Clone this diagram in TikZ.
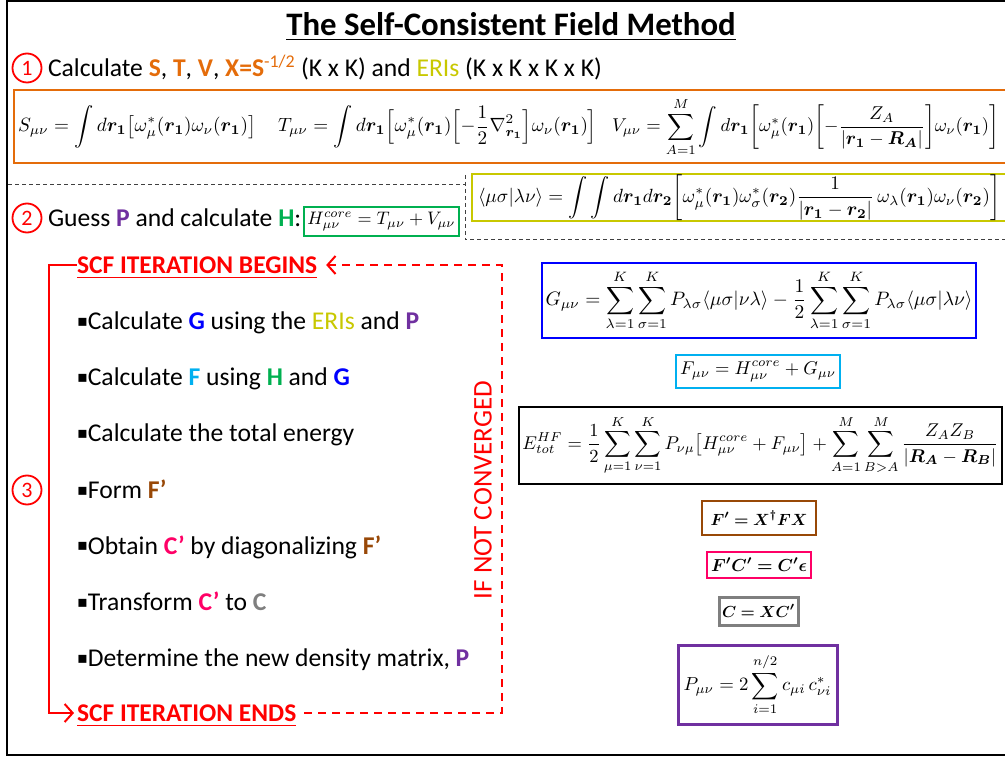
\documentclass[tikz,border=0pt]{standalone}
\usepackage{amsmath,bm}
\usepackage{graphicx}
\usepackage{fontspec}
\setmainfont{Carlito}
\newfontfamily\dejavu{DejaVu Sans}
\usetikzlibrary{arrows.meta}
\definecolor{cOrange}{HTML}{E46C0A}
\definecolor{cYellow}{HTML}{C8C800}
\definecolor{cGreen}{HTML}{00B050}
\definecolor{cBlue}{HTML}{0000FF}
\definecolor{cCyan}{HTML}{00B0F0}
\definecolor{cBrown}{HTML}{984807}
\definecolor{cPink}{HTML}{FF0066}
\definecolor{cGray}{HTML}{7F7F7F}
\definecolor{cPurple}{HTML}{7030A0}
\definecolor{cRed}{HTML}{FF0000}
\newcommand{\fs}[1]{\fontsize{#1}{#1}\selectfont}
\newcommand{\eqw}[2]{\resizebox{#1pt}{!}{$\displaystyle #2$}}
\newcommand{\bul}{\raisebox{3pt}{\dejavu\fs{16}▪}}
\newcommand{\cb}[2]{\textbf{\color{#1}#2}}
\begin{document}
\begin{tikzpicture}[x=1pt,y=-1pt,
  every node/.style={inner sep=0pt,outer sep=0pt},
  stepnum/.style={circle,draw=cRed,line width=1.8pt,minimum size=29pt,text=cRed,font=\fs{22}},
  txt/.style={anchor=base west,font=\fs{25.6}},
  scflabel/.style={anchor=west,font=\fs{25.5}\bfseries,text=cRed,text depth=0pt},
  eqbox/.style={draw,line width=2.5pt},
  redline/.style={draw=cRed,line width=2pt},
  reddash/.style={draw=cRed,line width=2pt,dash pattern=on 8pt off 6pt},
  barb/.style={-{Straight Barb[length=8pt,width=18pt,line width=2pt]}},
  blackdash/.style={draw=black!75,line width=1pt,dash pattern=on 4pt off 3pt}]
\useasboundingbox (0,0) rectangle (1005,759);
% outer frame
\draw[line width=2.5pt] (1010,1) -| (7,755) -- (1010,755);
% title
\node[font=\fs{32.8}\bfseries,text depth=0pt] (title) at (511,24) {\underline{The Self-Consistent Field Method}};
% step 1
\node[stepnum] (s1) at (27,68) {1};
\node[txt] (t1) at (48,77) {Calculate \cb{cOrange}{S}, \cb{cOrange}{T}, \cb{cOrange}{V}, {\color{cOrange}\textbf{X=S}\textsuperscript{-1/2}} (K x K) and {\color{cYellow}ERIs} (K x K x K x K)};
\draw[cOrange,line width=2.5pt] (1010,90) -| (14,163) -- (1010,163);
\node[anchor=west] (eqS) at (18,127) {\eqw{238}{S_{\mu\nu} = \int d\bm{r_1}\bigl[\omega_\mu^*(\bm{r_1})\omega_\nu(\bm{r_1})\bigr]}};
\node[anchor=west] (eqT) at (278,127) {\eqw{319}{T_{\mu\nu} = \int d\bm{r_1}\Bigl[\omega_\mu^*(\bm{r_1})\Bigl[-\frac{1}{2}\nabla_{\bm{r_1}}^2\Bigr]\omega_\nu(\bm{r_1})\Bigr]}};
\node[anchor=west] (eqV) at (612,127) {\eqw{387}{V_{\mu\nu} = \sum_{A=1}^{M}\int d\bm{r_1}\biggl[\omega_\mu^*(\bm{r_1})\biggl[-\frac{Z_A}{|\bm{r_1}-\bm{R_A}|}\biggr]\omega_\nu(\bm{r_1})\biggr]}};
% step 2
\draw[blackdash] (8,185) -- (465,185);
\draw[blackdash] (465,175) -- (465,240) -- (1010,240);
\node[stepnum] (s2) at (27,218) {2};
\node[txt] (t2) at (48,227) {Guess \cb{cPurple}{P} and calculate \cb{cGreen}{H}:};
\node[eqbox,draw=cGreen,line width=2pt,minimum width=155pt,minimum height=29pt] (eqH) at (381.5,221.5) {\eqw{148}{H_{\mu\nu}^{core} = T_{\mu\nu}+V_{\mu\nu}}};
\draw[cYellow,line width=2.5pt] (1010,174) -| (472,221) -- (1010,221);
\node[anchor=west] (eqERI) at (478,197.5) {\eqw{522}{\langle\mu\sigma|\lambda\nu\rangle = \int\int d\bm{r_1}d\bm{r_2}\biggl[\omega_\mu^*(\bm{r_1})\omega_\sigma^*(\bm{r_2})\frac{1}{|\bm{r_1}-\bm{r_2}|}\,\omega_\lambda(\bm{r_1})\omega_\nu(\bm{r_2})\biggr]}};
% step 3
\node[stepnum] (s3) at (27,490) {3};
\node[scflabel] (begins) at (77,265) {\underline{SCF ITERATION BEGINS}};
\node[scflabel] (ends) at (77,713) {\underline{SCF ITERATION ENDS}};
\coordinate (lp) at (49,490);
\coordinate (rp) at (502,490);
\draw[redline,barb,shorten >=3pt] (begins.west) -| (lp) |- (ends.west);
\draw[reddash,barb,shorten <=8pt,shorten >=9pt] (ends.east) -| (rp) |- (begins.east);
\node[rotate=90,text=cRed,font=\fs{27}] (ifnc) at (483,490) {IF NOT CONVERGED};
\node[txt] (i1) at (77,330) {\bul Calculate \cb{cBlue}{G} using the {\color{cYellow}ERIs} and \cb{cPurple}{P}};
\node[txt] (i2) at (77,386) {\bul Calculate \cb{cCyan}{F} using \cb{cGreen}{H} and \cb{cBlue}{G}};
\node[txt] (i3) at (77,442) {\bul Calculate the total energy};
\node[txt] (i4) at (77,498) {\bul Form \cb{cBrown}{F’}};
\node[txt] (i5) at (77,554) {\bul Obtain \cb{cPink}{C’} by diagonalizing \cb{cBrown}{F’}};
\node[txt] (i6) at (77,610) {\bul Transform \cb{cPink}{C’} to \cb{cGray}{C}};
\node[txt] (i7) at (77,666) {\bul Determine the new density matrix, \cb{cPurple}{P}};
% right boxes
\node[eqbox,draw=cBlue,minimum width=434pt,minimum height=75pt] (eqG) at (759,300.5) {\eqw{427}{G_{\mu\nu} = \sum_{\lambda=1}^{K}\sum_{\sigma=1}^{K}P_{\lambda\sigma}\langle\mu\sigma|\nu\lambda\rangle - \frac{1}{2}\sum_{\lambda=1}^{K}\sum_{\sigma=1}^{K}P_{\lambda\sigma}\langle\mu\sigma|\lambda\nu\rangle}};
\node[eqbox,draw=cCyan,minimum width=164pt,minimum height=33pt] (eqF) at (758,371.5) {\eqw{156}{F_{\mu\nu} = H_{\mu\nu}^{core}+G_{\mu\nu}}};
\node[eqbox,draw=black,minimum width=483pt,minimum height=77pt] (eqE) at (760.5,445.5) {\eqw{476}{E_{tot}^{HF} = \frac{1}{2}\sum_{\mu=1}^{K}\sum_{\nu=1}^{K}P_{\nu\mu}\bigl[H_{\mu\nu}^{core}+F_{\mu\nu}\bigr] + \sum_{A=1}^{M}\sum_{B>A}^{M}\frac{Z_AZ_B}{|\bm{R_A}-\bm{R_B}|}}};
\node[eqbox,draw=cBrown,line width=2pt,minimum width=114pt,minimum height=34pt] (eqFp) at (759,518) {\eqw{97}{\bm{F' = X^\dagger F X}}};
\node[eqbox,draw=cPink,minimum width=104pt,minimum height=26pt] (eqFC) at (759,565) {\eqw{96}{\bm{F'C' = C'\epsilon}}};
\node[eqbox,draw=cGray,line width=3pt,minimum width=79pt,minimum height=28pt] (eqC) at (758.5,611) {\eqw{73}{\bm{C = XC'}}};
\node[eqbox,draw=cPurple,line width=3pt,minimum width=159pt,minimum height=79pt] (eqP) at (757.5,684.5) {\eqw{148}{P_{\mu\nu} = 2\sum_{i=1}^{n/2}c_{\mu i}\,c_{\nu i}^*}};
\end{tikzpicture}
\end{document}
